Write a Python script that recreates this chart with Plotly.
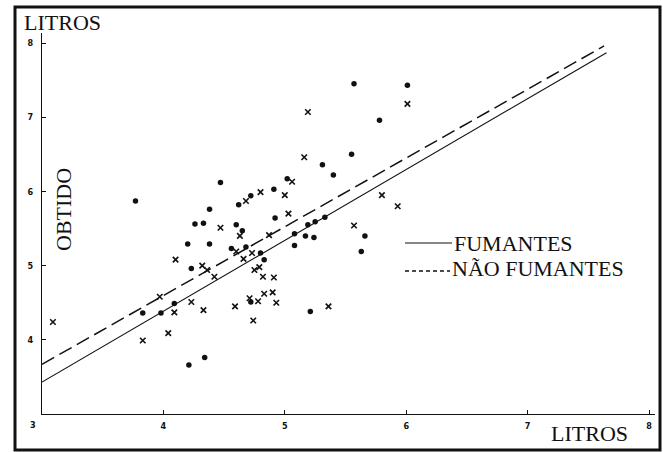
import plotly.graph_objects as go

# Medições: circulos cheios e cruzes (litros)
fum_x = [3.77, 4.47, 5.57, 6.01, 5.78, 5.55, 5.31, 5.40, 5.02, 4.91, 4.72, 4.62, 4.38,
         4.26, 4.33, 4.60, 4.65, 4.92, 4.20, 4.38, 4.56, 4.68, 4.80, 4.83, 4.23, 5.19,
         5.25, 5.33, 5.08, 5.17, 5.24, 5.08, 5.66, 5.63, 4.72, 5.21, 4.21, 4.34, 3.83,
         4.09, 3.98]
fum_y = [5.87, 6.12, 7.45, 7.43, 6.96, 6.50, 6.36, 6.22, 6.17, 6.03, 5.94, 5.82, 5.76,
         5.56, 5.57, 5.55, 5.47, 5.64, 5.29, 5.29, 5.23, 5.25, 5.17, 5.08, 4.96, 5.55,
         5.59, 5.65, 5.43, 5.40, 5.38, 5.27, 5.40, 5.19, 4.51, 4.38, 3.66, 3.76, 4.36,
         4.49, 4.36]

nfum_x = [6.01, 5.19, 5.16, 5.06, 4.80, 5.00, 4.68, 5.80, 5.93, 4.47, 5.03, 4.63, 4.60,
          4.73, 4.66, 4.79, 4.75, 4.32, 4.36, 4.42, 4.87, 5.57, 4.82, 4.91, 4.83, 4.90,
          4.71, 4.78, 4.93, 4.23, 4.33, 4.59, 4.74, 5.36, 4.10, 4.09, 4.04, 3.83, 3.09,
          3.97]
nfum_y = [7.18, 7.07, 6.46, 6.13, 5.99, 5.95, 5.87, 5.95, 5.80, 5.51, 5.70, 5.40, 5.19,
          5.17, 5.09, 4.98, 4.94, 5.00, 4.94, 4.85, 5.41, 5.54, 4.85, 4.84, 4.62, 4.64,
          4.56, 4.52, 4.50, 4.51, 4.40, 4.45, 4.26, 4.45, 5.08, 4.37, 4.09, 3.99, 4.24,
          4.58]

# Rectas de regressao (extremos)
reta_fum_x = [3.0, 7.65]
reta_fum_y = [3.43, 7.87]
reta_nfum_x = [3.0, 7.63]
reta_nfum_y = [3.67, 7.96]

x_ticks = [4, 5, 6, 7, 8]
y_ticks = [4, 5, 6, 7, 8]

W, H = 663, 452
L, R, T, B = 42, 8, 33, 38
PW, PH = W - L - R, H - T - B


def px(x):
    return (x - L) / PW


def py(y):
    return (H - B - y) / PH


SERIF = "Liberation Serif, Times New Roman, serif"
INK = "#111111"

fig = go.Figure()

fig.add_trace(go.Scatter(x=reta_fum_x, y=reta_fum_y, mode="lines",
                         line=dict(color=INK, width=1.1), showlegend=False))
fig.add_trace(go.Scatter(x=reta_nfum_x, y=reta_nfum_y, mode="lines",
                         line=dict(color=INK, width=1.5, dash="14px,6px"),
                         showlegend=False))
fig.add_trace(go.Scatter(x=fum_x, y=fum_y, mode="markers",
                         marker=dict(symbol="circle", size=5.5, color=INK),
                         showlegend=False))
fig.add_trace(go.Scatter(x=nfum_x, y=nfum_y, mode="markers",
                         marker=dict(symbol="x-thin", size=5.5,
                                     line=dict(color=INK, width=1.6)),
                         showlegend=False))

tickfont = dict(family="DejaVu Sans Condensed, DejaVu Sans", size=9,
                color=INK, weight="bold")

fig.update_xaxes(range=[3, 3 + PW / 121.4], tickvals=x_ticks,
                 ticktext=[str(v) for v in x_ticks],
                 showline=True, linecolor=INK, linewidth=1.3,
                 ticks="inside", ticklen=4, tickcolor=INK, tickwidth=1.2,
                 showgrid=False, zeroline=False, tickfont=tickfont,
                 ticklabelstandoff=3)
fig.update_yaxes(range=[3, 3 + PH / 74.2], tickvals=y_ticks,
                 ticktext=[str(v) for v in y_ticks],
                 showline=True, linecolor=INK, linewidth=1.3,
                 ticks="inside", ticklen=4, tickcolor=INK, tickwidth=1.2,
                 showgrid=False, zeroline=False, tickfont=tickfont,
                 ticklabelstandoff=6)

ann = []
# origem partilhada
ann.append(dict(x=px(33), y=py(425), xref="paper", yref="paper", text="3",
                showarrow=False, font=tickfont, xanchor="center", yanchor="middle"))
ann.append(dict(x=px(22), y=py(23), xref="paper", yref="paper", text="LITROS",
                showarrow=False, font=dict(family=SERIF, size=22, color=INK),
                xanchor="left", yanchor="middle"))
ann.append(dict(x=px(549), y=py(433), xref="paper", yref="paper", text="LITROS",
                showarrow=False, font=dict(family=SERIF, size=22, color=INK),
                xanchor="left", yanchor="middle"))
ann.append(dict(x=px(64), y=py(210), xref="paper", yref="paper", text="OBTIDO",
                showarrow=False, textangle=-90,
                font=dict(family=SERIF, size=22, color=INK),
                xanchor="center", yanchor="middle"))
ann.append(dict(x=px(452), y=py(243), xref="paper", yref="paper", text="FUMANTES",
                showarrow=False, font=dict(family=SERIF, size=22, color=INK),
                xanchor="left", yanchor="middle"))
ann.append(dict(x=px(450), y=py(268), xref="paper", yref="paper", text="NÃO FUMANTES",
                showarrow=False, font=dict(family=SERIF, size=22, color=INK),
                xanchor="left", yanchor="middle"))

shapes = [
    # moldura
    dict(type="rect", xref="paper", yref="paper", x0=px(15), x1=px(660),
         y0=py(450), y1=py(7), line=dict(color=INK, width=3)),
    # amostras da legenda
    dict(type="line", xref="paper", yref="paper", x0=px(405), x1=px(452),
         y0=py(243), y1=py(243), line=dict(color=INK, width=1.2)),
    dict(type="line", xref="paper", yref="paper", x0=px(405), x1=px(450),
         y0=py(271), y1=py(271), line=dict(color=INK, width=1.3, dash="4px,3px")),
]

fig.update_layout(width=W, height=H, margin=dict(l=L, r=R, t=T, b=B),
                  paper_bgcolor="white", plot_bgcolor="white",
                  annotations=ann, shapes=shapes, showlegend=False)

fig.write_html("out.html")
